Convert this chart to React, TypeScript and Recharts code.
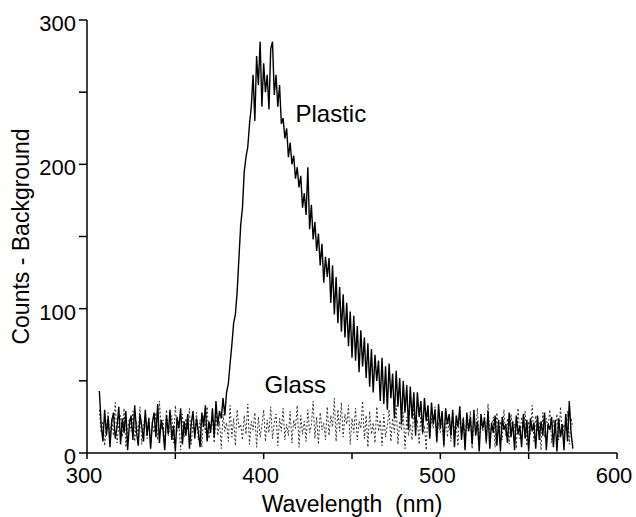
import { LineChart, Line, XAxis, YAxis, ReferenceDot } from 'recharts';

// wavelength grid (nm), one reading per nm
const wavelengths = [
  307, 308, 309, 310, 311, 312, 313, 314, 315, 316,
  317, 318, 319, 320, 321, 322, 323, 324, 325, 326,
  327, 328, 329, 330, 331, 332, 333, 334, 335, 336,
  337, 338, 339, 340, 341, 342, 343, 344, 345, 346,
  347, 348, 349, 350, 351, 352, 353, 354, 355, 356,
  357, 358, 359, 360, 361, 362, 363, 364, 365, 366,
  367, 368, 369, 370, 371, 372, 373, 374, 375, 376,
  377, 378, 379, 380, 381, 382, 383, 384, 385, 386,
  387, 388, 389, 390, 391, 392, 393, 394, 395, 396,
  397, 398, 399, 400, 401, 402, 403, 404, 405, 406,
  407, 408, 409, 410, 411, 412, 413, 414, 415, 416,
  417, 418, 419, 420, 421, 422, 423, 424, 425, 426,
  427, 428, 429, 430, 431, 432, 433, 434, 435, 436,
  437, 438, 439, 440, 441, 442, 443, 444, 445, 446,
  447, 448, 449, 450, 451, 452, 453, 454, 455, 456,
  457, 458, 459, 460, 461, 462, 463, 464, 465, 466,
  467, 468, 469, 470, 471, 472, 473, 474, 475, 476,
  477, 478, 479, 480, 481, 482, 483, 484, 485, 486,
  487, 488, 489, 490, 491, 492, 493, 494, 495, 496,
  497, 498, 499, 500, 501, 502, 503, 504, 505, 506,
  507, 508, 509, 510, 511, 512, 513, 514, 515, 516,
  517, 518, 519, 520, 521, 522, 523, 524, 525, 526,
  527, 528, 529, 530, 531, 532, 533, 534, 535, 536,
  537, 538, 539, 540, 541, 542, 543, 544, 545, 546,
  547, 548, 549, 550, 551, 552, 553, 554, 555, 556,
  557, 558, 559, 560, 561, 562, 563, 564, 565, 566,
  567, 568, 569, 570, 571, 572, 573, 574, 575,
];

const plastic = [
  43, 20, 8, 30, 12, 25, 4, 22, 28, 10,
  18, 32, 6, 24, 14, 29, 2, 20, 26, 9,
  33, 15, 5, 27, 19, 8, 30, 12, 24, 3,
  21, 28, 11, 34, 7, 23, 16, 2, 26, 13,
  30, 9, 19, 1, 25, 17, 31, 6, 22, 12,
  27, 3, 20, 29, 10, 24, 15, 4, 28, 18,
  33, 8, 22, 14, 31, 11, 36, 19, 29, 24,
  38, 26, 42, 48, 62, 75, 90, 96, 112, 135,
  158, 170, 195, 205, 212, 228, 240, 262, 230, 275,
  255, 285, 240, 270, 250, 262, 238, 280, 285, 248,
  262, 240, 255, 228, 232, 218, 225, 205, 215, 200,
  206, 190, 198, 184, 192, 170, 180, 165, 198, 155,
  172, 148, 160, 140, 152, 130, 145, 118, 136, 122,
  135, 104, 130, 96, 122, 90, 115, 84, 110, 80,
  104, 74, 98, 66, 95, 64, 88, 56, 85, 60,
  80, 52, 76, 46, 72, 42, 68, 50, 64, 36,
  66, 34, 60, 30, 62, 38, 55, 24, 57, 32,
  52, 20, 50, 28, 47, 16, 46, 24, 42, 12,
  42, 25, 36, 14, 38, 22, 33, 10, 35, 20,
  30, 8, 34, 17, 29, 5, 31, 20, 27, 12,
  30, 4, 26, 18, 32, 9, 24, 2, 28, 15,
  25, 6, 30, 12, 22, 1, 27, 17, 24, 8,
  29, 3, 21, 14, 26, 5, 23, 1, 25, 16,
  20, 7, 28, 11, 22, 2, 26, 13, 19, 4,
  27, 10, 23, 1, 24, 15, 21, 3, 26, 9,
  22, 12, 28, 2, 20, 16, 25, 4, 23, 1,
  24, 11, 20, 2, 27, 8, 36, 14, 3,
];

const glass = [
  30, 14, 22, 5, 18, 28, 9, 24, 12, 35,
  7, 20, 26, 11, 31, 4, 17, 24, 15, 29,
  8, 22, 13, 32, 6, 19, 27, 10, 25, 3,
  21, 14, 28, 9, 36, 16, 23, 5, 30, 12,
  18, 26, 7, 33, 15, 21, 2, 27, 11, 24,
  16, 31, 6, 20, 13, 28, 9, 23, 4, 26,
  14, 32, 10, 19, 25, 7, 29, 12, 22, 3,
  27, 15, 21, 8, 33, 11, 24, 5, 30, 17,
  20, 9, 26, 13, 34, 6, 22, 16, 28, 4,
  25, 11, 19, 30, 8, 23, 14, 32, 10, 21,
  27, 5, 24, 15, 31, 9, 20, 12, 29, 7,
  23, 17, 33, 4, 26, 13, 22, 8, 30, 14,
  19, 36, 10, 25, 6, 28, 16, 21, 9, 32,
  12, 26, 18, 38, 8, 30, 15, 35, 11, 27,
  20, 33, 6, 24, 14, 31, 9, 22, 17, 36,
  10, 26, 4, 29, 13, 21, 7, 32, 15, 23,
  5, 27, 11, 19, 30, 8, 24, 14, 33, 6,
  22, 16, 28, 3, 25, 12, 20, 9, 31, 15,
  23, 6, 27, 13, 19, 2, 29, 10, 24, 17,
  32, 7, 21, 14, 26, 4, 30, 11, 23, 8,
  28, 15, 20, 5, 33, 12, 25, 9, 22, 16,
  29, 3, 24, 13, 31, 7, 21, 15, 27, 6,
  34, 11, 19, 25, 4, 28, 14, 22, 9, 30,
  12, 24, 6, 27, 16, 20, 3, 31, 10, 25,
  17, 29, 5, 22, 13, 33, 8, 26, 15, 21,
  2, 28, 11, 24, 18, 30, 7, 23, 14, 27,
  9, 32, 12, 20, 16, 29, 6, 24, 18,
];

const xTicks = [300, 350, 400, 450, 500, 550, 600];
const yTicks = [0, 50, 100, 150, 200, 250, 300];

const data = wavelengths.map((w, i) => ({ w, plastic: plastic[i], glass: glass[i] }));

const FONT = '"Liberation Sans", Arial, sans-serif';

const XTick = ({ x, y, payload }: any) =>
  payload.value % 100 === 0 ? (
    <text x={x - 3} y={y + 24} textAnchor="middle" fontSize={22} fontFamily={FONT} fill="#000">
      {payload.value}
    </text>
  ) : null;

const YTick = ({ x, y, payload }: any) =>
  payload.value % 100 === 0 ? (
    <text x={x - 3} y={y + 11} textAnchor="end" fontSize={22} fontFamily={FONT} fill="#000">
      {payload.value}
    </text>
  ) : null;

const XTitle = ({ viewBox }: any) => (
  <text
    x={viewBox.x + viewBox.width / 2}
    y={viewBox.y + viewBox.height - 5}
    textAnchor="middle"
    fontSize={23}
    fontFamily={FONT}
    fill="#000"
    style={{ whiteSpace: 'pre' }}
  >
    {'Wavelength  (nm)'}
  </text>
);

const YTitle = ({ viewBox }: any) => {
  const cx = viewBox.x + 29;
  const cy = viewBox.y + viewBox.height / 2;
  return (
    <text
      x={cx}
      y={cy}
      transform={`rotate(-90 ${cx} ${cy})`}
      textAnchor="middle"
      fontSize={23}
      fontFamily={FONT}
      fill="#000"
    >
      Counts - Background
    </text>
  );
};

const Note = ({ viewBox, text }: any) => (
  <text x={viewBox.x} y={viewBox.y} fontSize={24} fontFamily={FONT} fill="#000">
    {text}
  </text>
);

export default function App() {
  return (
    <div style={{ position: 'absolute', left: 0, top: 0 }}>
      <LineChart
        width={636}
        height={517}
        data={data}
        margin={{ top: 20, right: 19, left: 0, bottom: 0 }}
      >
        <XAxis
          dataKey="w"
          type="number"
          domain={[300, 600]}
          ticks={xTicks}
          interval={0}
          height={64}
          tickSize={6}
          tickMargin={0}
          tick={<XTick />}
          axisLine={{ stroke: '#000', strokeWidth: 1.5 }}
          tickLine={{ stroke: '#000', strokeWidth: 1.5 }}
          label={<XTitle />}
        />
        <YAxis
          type="number"
          domain={[0, 300]}
          ticks={yTicks}
          interval={0}
          width={87}
          tickSize={8}
          tickMargin={0}
          tick={<YTick />}
          axisLine={{ stroke: '#000', strokeWidth: 1.5 }}
          tickLine={{ stroke: '#000', strokeWidth: 1.5 }}
          label={<YTitle />}
        />
        <Line
          dataKey="glass"
          stroke="#333"
          strokeWidth={1}
          strokeDasharray="2 2"
          dot={false}
          isAnimationActive={false}
        />
        <Line
          dataKey="plastic"
          stroke="#000"
          strokeWidth={1.4}
          dot={false}
          isAnimationActive={false}
        />
        <ReferenceDot x={418} y={229} r={0} fill="none" stroke="none" label={<Note text="Plastic" />} />
        <ReferenceDot x={400.5} y={41.5} r={0} fill="none" stroke="none" label={<Note text="Glass" />} />
      </LineChart>
    </div>
  );
}
